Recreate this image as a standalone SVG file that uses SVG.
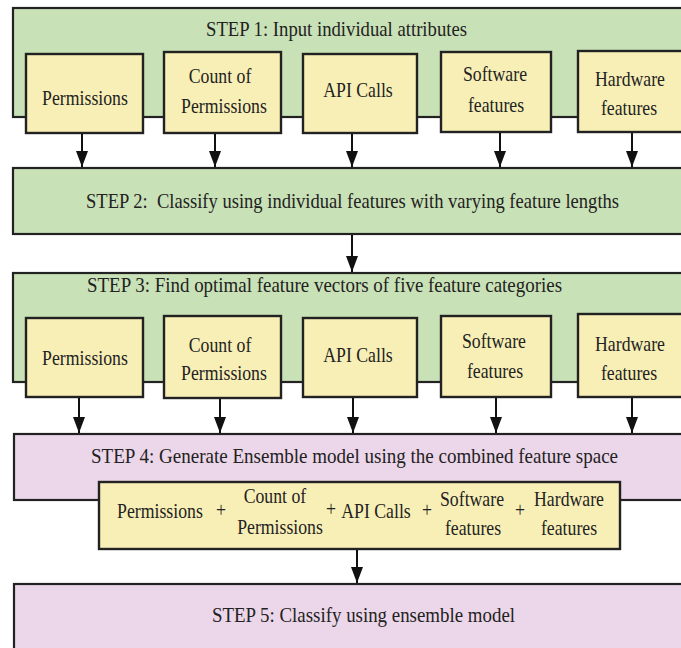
<svg xmlns="http://www.w3.org/2000/svg" width="681" height="648" viewBox="0 0 681 648">
  <style>
    .step-green { fill: #c9e1b6; stroke: #222; stroke-width: 2.2; }
    .step-pink { fill: #ecd6e9; stroke: #222; stroke-width: 2.2; }
    .feat { fill: #f8efb6; stroke: #222; stroke-width: 2.4; }
    .title { font-size: 22px; fill: #222; }
    .lbl { font-size: 21px; text-anchor: middle; fill: #222; }
    .conn line { stroke: #111; stroke-width: 2; }
  </style>
  <defs>
    <marker id="arrow" viewBox="0 0 16 12" refX="16" refY="6" markerWidth="16" markerHeight="12" markerUnits="userSpaceOnUse" orient="auto">
      <path d="M0,0 L16,6 L0,12 Z" fill="#111"/>
    </marker>
  </defs>
  <rect width="681" height="648" fill="#ffffff"/>

  <!-- Boxes -->
  <g id="step1"><rect class="step-green" x="13" y="8" width="680" height="109"/></g>
  <g id="s1-permissions"><rect class="feat" x="26" y="54" width="117" height="79"/></g>
  <g id="s1-count"><rect class="feat" x="164" y="52" width="117" height="81"/></g>
  <g id="s1-api"><rect class="feat" x="303" y="54" width="114" height="79"/></g>
  <g id="s1-software"><rect class="feat" x="441" y="52" width="110" height="80"/></g>
  <g id="s1-hardware"><rect class="feat" x="578" y="51" width="110" height="81"/></g>

  <g id="step2"><rect class="step-green" x="13" y="168" width="680" height="66"/></g>

  <g id="step3"><rect class="step-green" x="13" y="273" width="680" height="109"/></g>
  <g id="s3-permissions"><rect class="feat" x="26" y="318" width="117" height="79"/></g>
  <g id="s3-count"><rect class="feat" x="164" y="316" width="117" height="82"/></g>
  <g id="s3-api"><rect class="feat" x="303" y="318" width="114" height="79"/></g>
  <g id="s3-software"><rect class="feat" x="441" y="316" width="110" height="81"/></g>
  <g id="s3-hardware"><rect class="feat" x="578" y="314" width="110" height="83"/></g>

  <g id="step4"><rect class="step-pink" x="14" y="434" width="680" height="66"/></g>
  <g id="combined"><rect class="feat" x="99" y="482" width="521" height="67"/></g>

  <g id="step5"><rect class="step-pink" x="14" y="584" width="680" height="80"/></g>

  <!-- Labels: narrow serif, set in a horizontally condensed frame (x values are divided by 0.845) -->
  <g id="labels" font-family="Liberation Serif, Times New Roman, DejaVu Serif, serif" transform="scale(0.845 1)">
    <text class="title" x="243.8" y="36" textLength="308.9" lengthAdjust="spacingAndGlyphs">STEP 1: Input individual attributes</text>
    <text class="lbl" x="100.6" y="105">Permissions</text>
    <text class="lbl" x="260.4" y="83">Count of</text>
    <text class="lbl" x="265.1" y="113">Permissions</text>
    <text class="lbl" x="423.7" y="97">API Calls</text>
    <text class="lbl" x="585.8" y="81">Software</text>
    <text class="lbl" x="587" y="112">features</text>
    <text class="lbl" x="745.6" y="86">Hardware</text>
    <text class="lbl" x="744.4" y="115">features</text>

    <text class="title" x="101.8" y="208" textLength="630.8" lengthAdjust="spacingAndGlyphs" xml:space="preserve">STEP 2:  Classify using individual features with varying feature lengths</text>

    <text class="title" x="103" y="292" textLength="562.1" lengthAdjust="spacingAndGlyphs">STEP 3: Find optimal feature vectors of five feature categories</text>
    <text class="lbl" x="100.6" y="365">Permissions</text>
    <text class="lbl" x="260.4" y="352">Count of</text>
    <text class="lbl" x="265.1" y="380">Permissions</text>
    <text class="lbl" x="423.7" y="362">API Calls</text>
    <text class="lbl" x="584.6" y="348">Software</text>
    <text class="lbl" x="585.8" y="378">features</text>
    <text class="lbl" x="745.6" y="351">Hardware</text>
    <text class="lbl" x="744.4" y="380">features</text>

    <text class="title" x="107.7" y="463" textLength="623.7" lengthAdjust="spacingAndGlyphs">STEP 4: Generate Ensemble model using the combined feature space</text>
    <text class="lbl" x="189.3" y="518">Permissions</text>
    <text class="lbl" x="261.5" y="517">+</text>
    <text class="lbl" x="325.4" y="503">Count of</text>
    <text class="lbl" x="331.4" y="534">Permissions</text>
    <text class="lbl" x="391.7" y="516">+</text>
    <text class="lbl" x="445" y="518">API Calls</text>
    <text class="lbl" x="505.3" y="517">+</text>
    <text class="lbl" x="558.6" y="506">Software</text>
    <text class="lbl" x="559.8" y="535">features</text>
    <text class="lbl" x="615.4" y="517">+</text>
    <text class="lbl" x="673.4" y="506">Hardware</text>
    <text class="lbl" x="673.4" y="535">features</text>

    <text class="title" x="250.9" y="622" textLength="358.6" lengthAdjust="spacingAndGlyphs">STEP 5: Classify using ensemble model</text>
  </g>

  <!-- Connectors -->
  <g id="connectors" class="conn">
    <line x1="82" y1="134" x2="82" y2="167" marker-end="url(#arrow)"/>
    <line x1="215" y1="134" x2="215" y2="167" marker-end="url(#arrow)"/>
    <line x1="352" y1="134" x2="352" y2="167" marker-end="url(#arrow)"/>
    <line x1="500" y1="133" x2="500" y2="167" marker-end="url(#arrow)"/>
    <line x1="632" y1="133" x2="632" y2="167" marker-end="url(#arrow)"/>
    <line x1="352" y1="235" x2="352" y2="272" marker-end="url(#arrow)"/>
    <line x1="79" y1="398" x2="79" y2="433" marker-end="url(#arrow)"/>
    <line x1="220" y1="399" x2="220" y2="433" marker-end="url(#arrow)"/>
    <line x1="353" y1="398" x2="353" y2="433" marker-end="url(#arrow)"/>
    <line x1="496" y1="398" x2="496" y2="433" marker-end="url(#arrow)"/>
    <line x1="632" y1="398" x2="632" y2="433" marker-end="url(#arrow)"/>
    <line x1="357" y1="550" x2="357" y2="583" marker-end="url(#arrow)"/>
  </g>
</svg>
